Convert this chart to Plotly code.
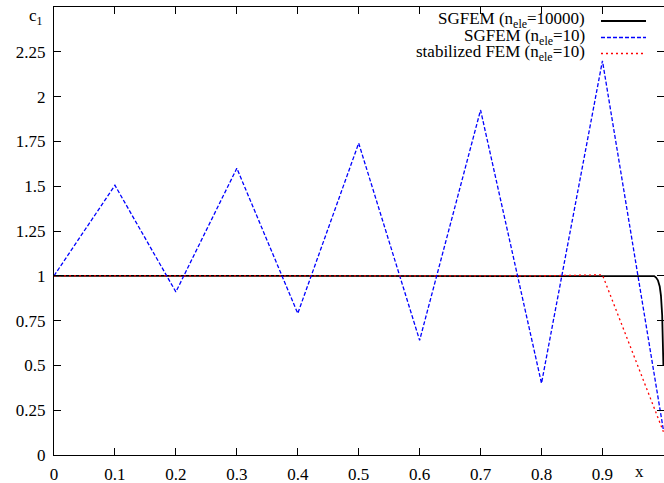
import plotly.graph_objects as go

# ---- data ----
x_fine = [0.0, 0.5, 0.98, 0.985, 0.988, 0.991, 0.994, 0.996, 0.998, 0.999, 1.0]
c1_fine = [1.0, 1.0, 1.0, 0.998, 0.99, 0.975, 0.94, 0.89, 0.78, 0.68, 0.5]

x_coarse = [0.0, 0.1, 0.2, 0.3, 0.4, 0.5, 0.6, 0.7, 0.8, 0.9, 1.0]
c1_sgfem10 = [1.0, 1.505, 0.91, 1.60, 0.79, 1.74, 0.64, 1.925, 0.40, 2.20, 0.14]
c1_stab10 = [1.0, 1.0, 1.0, 1.0, 1.0, 1.0, 1.0, 1.0, 1.0, 1.005, 0.13]

series_names = ["SGFEM (n<sub>ele</sub>=10000)",
                "SGFEM (n<sub>ele</sub>=10)",
                "stabilized FEM (n<sub>ele</sub>=10)"]

x_tickvals = [0, 0.1, 0.2, 0.3, 0.4, 0.5, 0.6, 0.7, 0.8, 0.9, 1.0]
x_ticktext = ["0", "0.1", "0.2", "0.3", "0.4", "0.5", "0.6", "0.7", "0.8", "0.9", ""]
y_tickvals = [0, 0.25, 0.5, 0.75, 1.0, 1.25, 1.5, 1.75, 2.0, 2.25, 2.5]
y_ticktext = ["0", "0.25", "0.5", "0.75", "1", "1.25", "1.5", "1.75", "2", "2.25", ""]

FONT = "Liberation Serif"
styles = [dict(color="#000000", width=1.8, dash="solid"),
          dict(color="#0000ff", width=1.3, dash="4px,2px"),
          dict(color="#ff0000", width=1.3, dash="2px,3px")]

fig = go.Figure()
fig.add_trace(go.Scatter(x=x_fine, y=c1_fine, mode="lines", line=styles[0], showlegend=False))
fig.add_trace(go.Scatter(x=x_coarse, y=c1_sgfem10, mode="lines", line=styles[1], showlegend=False))
fig.add_trace(go.Scatter(x=x_coarse, y=c1_stab10, mode="lines", line=styles[2], showlegend=False))

axis_common = dict(showline=True, linecolor="black", linewidth=1.2, mirror="ticks",
                   ticks="inside", ticklen=7, tickwidth=1, tickcolor="black",
                   showgrid=False, zeroline=False,
                   tickfont=dict(family=FONT, size=17, color="black"))

fig.update_xaxes(range=[0, 1.001], tickvals=x_tickvals, ticktext=x_ticktext,
                 ticklabelstandoff=3, **axis_common)
fig.update_yaxes(range=[0, 2.5], tickvals=y_tickvals, ticktext=y_ticktext,
                 ticklabelstandoff=4, **axis_common)

# legend drawn gnuplot-style: text right-aligned, sample on the right
row_y = [0.9688, 0.9319, 0.8962]
annotations = []
shapes = []
for name, st, yy in zip(series_names, styles, row_y):
    annotations.append(dict(x=0.8735, y=yy, xref="paper", yref="paper", text=name,
                            showarrow=False, xanchor="right", yanchor="middle", yshift=1,
                            font=dict(family=FONT, size=17, color="black")))
    shapes.append(dict(type="line", xref="paper", yref="paper", x0=0.8967, x1=0.9705,
                       y0=yy, y1=yy, line=st))

annotations.append(dict(x=0.96, y=0, xref="paper", yref="paper", text="x", showarrow=False,
                        xanchor="center", yanchor="top", yshift=-5,
                        font=dict(family=FONT, size=17, color="black")))
annotations.append(dict(x=0, y=1, xref="paper", yref="paper", text="c<sub>1</sub>", showarrow=False,
                        xanchor="right", yanchor="top", xshift=-9, yshift=3,
                        font=dict(family=FONT, size=17, color="black")))

fig.update_layout(width=664, height=483, margin=dict(l=54, r=0, t=7, b=28),
                  paper_bgcolor="white", plot_bgcolor="white",
                  font=dict(family=FONT, size=17, color="black"),
                  annotations=annotations, shapes=shapes)

fig.write_html("out.html")
